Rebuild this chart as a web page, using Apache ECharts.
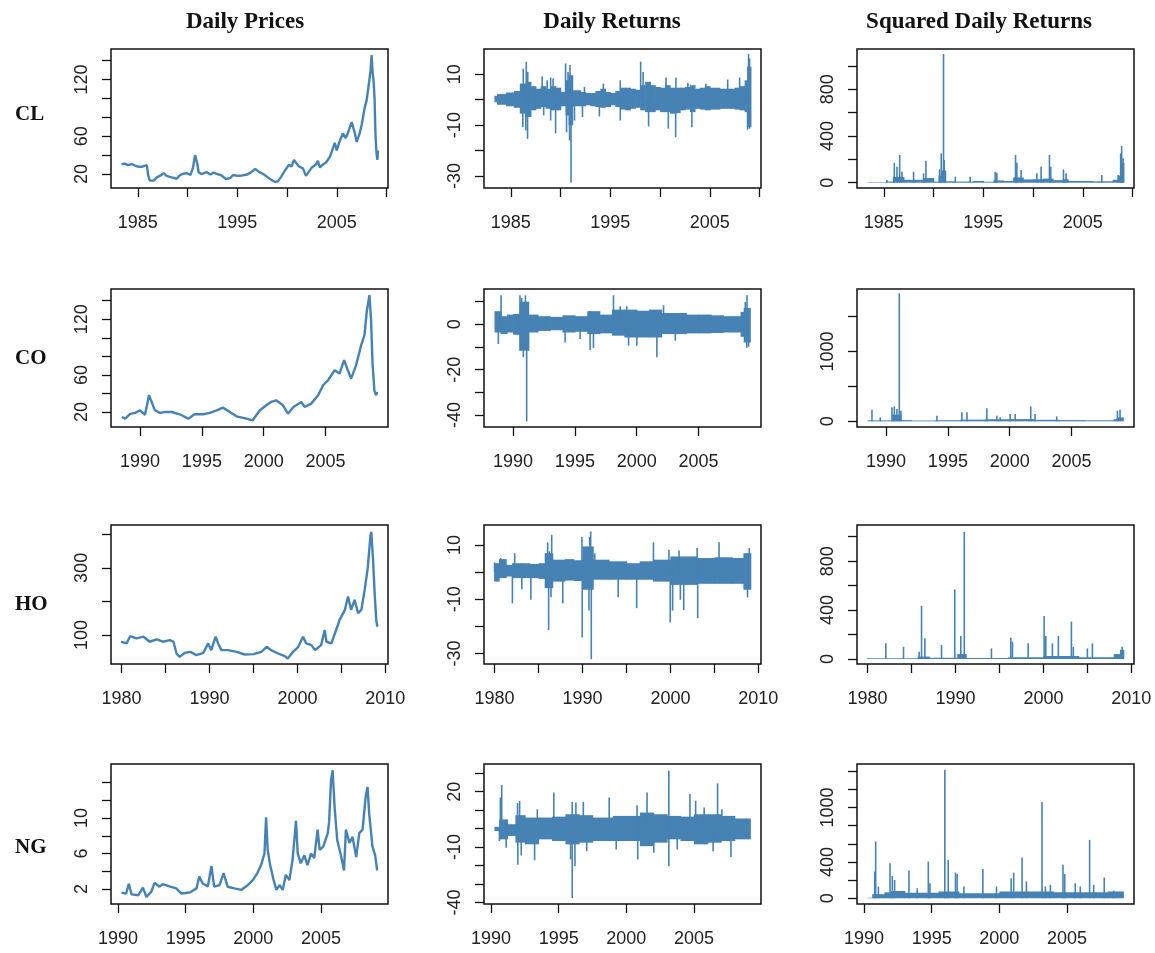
<!DOCTYPE html>
<html><head><meta charset="utf-8">
<script src="https://cdn.jsdelivr.net/npm/echarts@6/dist/echarts.min.js"></script>
<style>html,body{margin:0;padding:0;background:#fff}#c{width:1155px;height:953px}</style>
</head><body><div id="c"></div>
<script>
// ---------------- DATA ----------------
const rowNames = ['CL', 'CO', 'HO', 'NG'];
const colTitles = ['Daily Prices', 'Daily Returns', 'Squared Daily Returns'];

// x-axis ticks / labels per row
const xTicks = [[1985,1990,1995,2000,2005,2010],[1990,1995,2000,2005],[1980,1985,1990,1995,2000,2005,2010],[1990,1995,2000,2005]];
const xTickLabels = [[1985,1995,2005],[1990,1995,2000,2005],[1980,1990,2000,2010],[1990,1995,2000,2005]];

// y-axis ticks / labels per panel [row][col]
const yTicks = [
  [[20,40,60,80,100,120,140],[-30,-20,-10,0,10],[0,200,400,600,800,1000]],
  [[20,40,60,80,100,120,140],[-40,-30,-20,-10,0,10],[0,500,1000,1500]],
  [[100,200,300,400],[-30,-20,-10,0,10],[0,200,400,600,800,1000]],
  [[2,4,6,8,10,12,14],[-40,-30,-20,-10,0,10,20,30],[0,200,400,600,800,1000,1200,1400]]
];
const yTickLabels = [
  [[20,60,120],[-30,-10,10],[0,400,800]],
  [[20,60,120],[-40,-20,0],[0,1000]],
  [[100,300],[-30,-10,10],[0,400,800]],
  [[2,6,10],[-40,-10,20],[0,400,1000]]
];

// Daily prices [year, price]
const clPrice = [[1983.35,30.3],[1983.7,31],[1984.0,29.5],[1984.4,30.5],[1984.8,28.5],[1985.2,27.5],[1985.5,28],[1985.9,29.5],[1986.05,18],[1986.2,13],[1986.35,11.5],[1986.6,13],[1986.9,16.5],[1987.3,18.5],[1987.6,21],[1987.9,18],[1988.2,17],[1988.6,16],[1988.9,15],[1989.2,18.5],[1989.5,20],[1989.9,21],[1990.3,19],[1990.55,27],[1990.75,40],[1990.85,36],[1991.0,30],[1991.1,22],[1991.4,20],[1991.9,22],[1992.3,19.5],[1992.6,21.5],[1993.0,20],[1993.4,18.5],[1993.9,14.5],[1994.3,16],[1994.6,19],[1995.0,18],[1995.5,18.5],[1996.0,19.5],[1996.4,22],[1996.8,25.5],[1997.2,22],[1997.6,20],[1998.0,17],[1998.4,14],[1998.8,11.5],[1999.1,12.5],[1999.4,17],[1999.8,24],[2000.2,30],[2000.45,28],[2000.7,35],[2000.9,32],[2001.2,28],[2001.6,26],[2001.9,18],[2002.1,20],[2002.5,27],[2002.9,30],[2003.1,34],[2003.3,27],[2003.6,30],[2003.9,32],[2004.3,38],[2004.6,47],[2004.8,53],[2005.0,45],[2005.3,55],[2005.6,63],[2005.9,58],[2006.1,63],[2006.5,75],[2006.8,64],[2007.0,54],[2007.3,63],[2007.5,72],[2007.8,90],[2008.0,98],[2008.26,118],[2008.4,130],[2008.5,146],[2008.6,128],[2008.7,119],[2008.8,100],[2008.88,65],[2008.95,50],[2009.0,42],[2009.08,35],[2009.15,45]];
const coPrice = [[1988.52,14.6],[1988.8,12.8],[1989.2,18],[1989.6,19],[1990.0,21.8],[1990.4,17],[1990.6,30],[1990.72,38],[1990.8,39.8],[1990.94,30.8],[1991.2,21.8],[1991.6,19],[1992.0,20],[1992.55,20],[1993.2,17.5],[1993.9,12.8],[1994.4,17.5],[1995.1,17.5],[1995.65,19],[1996.2,21.8],[1996.7,24.7],[1997.26,20],[1997.8,15.3],[1998.6,12.8],[1999.1,11],[1999.7,21.8],[2000.2,27.2],[2000.6,30.8],[2001.0,32.6],[2001.56,27.2],[2001.96,18.2],[2002.4,25.4],[2003.04,30.8],[2003.3,25.4],[2003.84,29],[2004.4,38],[2004.8,48.8],[2005.2,54.2],[2005.73,65],[2006.13,61.4],[2006.5,75.9],[2006.8,65],[2007.07,56],[2007.47,70.5],[2007.88,92],[2008.15,103],[2008.33,128],[2008.55,146],[2008.68,119],[2008.8,72],[2008.95,43],[2009.09,38],[2009.17,41.6]];
const hoPrice = [[1979.95,80],[1980.57,75],[1981.0,97],[1981.7,90],[1982.5,95],[1983.2,80],[1984.0,87],[1984.7,80],[1985.5,85],[1985.9,80],[1986.25,45],[1986.6,35],[1987.2,47],[1987.8,50],[1988.5,40],[1989.3,47],[1989.85,75],[1990.2,55],[1990.7,95],[1990.98,75],[1991.36,55],[1992.1,55],[1993.1,50],[1994.0,42],[1995.0,43],[1995.9,50],[1996.5,65],[1997.0,55],[1997.8,45],[1998.56,37],[1998.9,30],[1999.5,50],[2000.1,65],[2000.64,95],[2001.0,75],[2001.6,70],[2002.0,55],[2002.7,70],[2003.1,115],[2003.3,80],[2003.86,75],[2004.4,115],[2004.8,145],[2005.4,175],[2005.76,215],[2006.1,175],[2006.5,205],[2006.9,165],[2007.27,175],[2007.65,235],[2008.0,300],[2008.3,395],[2008.4,407],[2008.6,325],[2008.8,215],[2008.98,140],[2009.1,125]];
const ngPrice = [[1990.25,1.6],[1990.6,1.5],[1990.8,2.6],[1991.0,1.4],[1991.5,1.3],[1991.84,2.15],[1992.1,1.1],[1992.46,1.7],[1992.7,2.7],[1993.07,2.26],[1993.3,2.56],[1993.8,2.3],[1994.3,2.07],[1994.67,1.5],[1995.3,1.6],[1995.8,2.07],[1996.0,3.4],[1996.27,2.6],[1996.64,2.3],[1996.9,4.6],[1997.1,2.26],[1997.5,2.45],[1997.8,3.8],[1998.1,2.26],[1998.6,2.07],[1999.1,1.9],[1999.6,2.45],[1999.96,3.0],[2000.3,3.8],[2000.57,4.7],[2000.82,6.0],[2000.94,10.1],[2001.06,6.4],[2001.24,4.7],[2001.5,3.0],[2001.7,1.9],[2001.93,2.45],[2002.17,1.9],[2002.4,3.6],[2002.66,3.0],[2002.9,5.3],[2003.15,9.7],[2003.28,6.0],[2003.5,4.9],[2003.77,5.8],[2004.0,4.7],[2004.26,6.0],[2004.5,5.5],[2004.75,8.7],[2004.9,6.4],[2005.17,6.8],[2005.5,8.3],[2005.6,9.6],[2005.74,14.3],[2005.86,15.4],[2006.0,11.3],[2006.2,7.5],[2006.47,5.8],[2006.7,4.1],[2006.84,8.7],[2007.1,7.2],[2007.33,7.9],[2007.6,5.6],[2007.83,8.3],[2008.07,8.7],[2008.3,12.4],[2008.44,13.5],[2008.56,10.5],[2008.8,6.8],[2009.0,5.8],[2009.15,4.1]];

// Daily returns: typical band [year from, high, low] and individual spikes [year, value]
const clRetBand = [[1983.35,1.5,-1.0],[1983.6,2.2,-2.0],[1984.5,2.8,-2.6],[1985.3,3.4,-3.2],[1985.9,6.3,-5.5],[1986.5,7.0,-6.8],[1987.0,5.3,-4.2],[1987.5,4.3,-3.6],[1988.0,5.3,-2.9],[1988.5,4.3,-3.6],[1989.0,5.3,-4.2],[1989.5,4.7,-4.2],[1990.0,3.0,-2.6],[1990.5,7.6,-6.2],[1990.8,9.6,-10.1],[1991.2,3.7,-2.6],[1992.0,3.0,-2.6],[1992.5,2.6,-2.2],[1993.0,2.6,-2.6],[1993.5,3.4,-2.9],[1994.0,4.3,-3.2],[1994.5,3.0,-2.9],[1995.0,2.6,-2.2],[1995.5,3.4,-2.9],[1996.0,4.7,-3.9],[1996.5,4.7,-4.2],[1997.0,4.3,-3.6],[1997.5,3.9,-3.2],[1998.0,5.7,-4.2],[1998.5,7.0,-4.9],[1999.0,5.7,-4.9],[1999.5,5.0,-4.2],[2000.0,4.7,-4.9],[2000.5,5.7,-4.9],[2001.0,4.7,-5.5],[2001.5,4.7,-5.3],[2002.0,4.7,-4.2],[2002.5,5.0,-3.9],[2003.0,5.7,-4.9],[2003.5,4.3,-3.6],[2004.0,4.7,-3.9],[2004.5,5.3,-4.2],[2005.0,4.7,-3.9],[2006.0,4.3,-3.6],[2007.0,4.3,-3.6],[2007.5,4.7,-3.9],[2008.0,5.3,-4.2],[2008.5,7.6,-4.9],[2008.75,12.9,-10.8],[2009.12,13.6,-11.4]];
const clRetSpikes = [[1986.25,12.2],[1986.55,14.9],[1986.7,10.9],[1988.15,9.2],[1988.65,7.6],[1989.0,8.7],[1989.25,8.3],[1990.5,14.2],[1990.75,10.9],[1990.95,13.6],[1992.4,5.0],[1994.3,6.3],[1996.0,7.6],[1998.05,14.9],[1998.3,10.9],[1999.0,7.0],[2000.6,8.7],[2001.6,8.7],[2002.8,6.6],[2004.6,6.3],[2006.8,7.9],[2008.0,8.7],[2008.9,17.9],[2009.0,16.2],
  [1986.2,-10.8],[1986.5,-12.1],[1986.68,-15.4],[1988.3,-6.2],[1989.0,-8.2],[1989.5,-13.2],[1990.6,-12.8],[1990.9,-16.0],[1991.05,-32.5],[1991.4,-8.2],[1992.2,-6.8],[1993.9,-6.6],[1996.0,-8.2],[1998.85,-10.5],[2000.83,-11.4],[2001.57,-14.7],[2003.2,-10.8],[2008.8,-11.8],[2009.0,-11.4]];
const coRetBand = [[1988.5,5.8,-3.6],[1989.0,3.6,-4.3],[1989.5,4.3,-3.6],[1990.0,4.6,-4.6],[1990.55,10.0,-11.6],[1991.25,4.3,-3.6],[1992.0,3.6,-2.9],[1993.0,3.3,-2.6],[1994.0,4.0,-3.6],[1995.0,3.6,-3.3],[1996.0,5.8,-4.3],[1997.0,4.3,-4.0],[1998.0,6.5,-5.0],[1999.0,6.5,-5.8],[2000.0,6.0,-5.8],[2001.0,6.5,-5.8],[2002.0,5.0,-4.3],[2003.0,5.0,-4.3],[2004.0,4.3,-4.0],[2005.0,4.3,-4.0],[2006.0,4.0,-3.8],[2007.0,3.6,-3.6],[2008.4,5.5,-5.5],[2008.65,7.2,-8.0],[2009.17,7.2,-8.0]];
const coRetSpikes = [[1989.03,12.8],[1990.56,12.8],[1990.7,11.6],[1991.0,12.8],[1991.1,9.4],[1996.23,5.8],[1998.12,12.8],[1998.66,8.0],[1999.2,8.0],[2002.17,8.4],[2008.78,9.9],[2008.92,12.8],
  [1988.81,-8.7],[1990.56,-11.6],[1990.83,-14.5],[1991.1,-42.8],[1991.24,-11.6],[1994.21,-8.0],[1995.42,-6.5],[1996.23,-11.3],[1996.5,-10.4],[1999.34,-9.4],[2000.01,-9.4],[2001.63,-14.5],[2003.12,-7.2],[2008.9,-10.4],[2009.05,-9.9]];
const hoRetBand = [[1979.95,3.3,-3.5],[1980.5,4.8,-2.2],[1981.3,2.7,-1.6],[1982.0,3.3,-2.2],[1983.0,3.3,-2.2],[1984.0,3.0,-2.2],[1985.0,3.3,-2.5],[1985.7,7.0,-5.9],[1986.6,4.6,-3.5],[1988.0,4.8,-3.1],[1989.0,4.4,-3.3],[1990.0,9.5,-6.5],[1991.2,4.6,-2.8],[1993.0,4.0,-2.8],[1995.0,3.3,-2.8],[1996.5,4.0,-2.8],[1998.0,4.6,-3.5],[2000.0,5.8,-4.7],[2003.0,5.2,-4.3],[2005.0,5.5,-4.3],[2007.0,5.2,-4.3],[2008.3,7.0,-6.5],[2009.12,7.0,-6.5]];
const hoRetSpikes = [[1980.0,3.6],[1980.69,5.2],[1982.29,7.0],[1986.04,11.0],[1986.23,7.7],[1986.5,13.8],[1989.94,13.0],[1990.81,13.0],[1990.93,15.0],[1991.39,7.0],[1998.07,11.0],[1999.83,8.3],[2000.98,8.0],[2003.04,8.9],[2005.53,11.0],[2008.97,8.9],
  [1982.03,-11.5],[1983.1,-6.3],[1984.13,-10.2],[1985.85,-5.3],[1986.15,-21.4],[1986.42,-9.3],[1987.76,-11.5],[1989.97,-24.1],[1990.74,-14.2],[1991.0,-32.1],[1994.06,-9.3],[1996.16,-13.3],[1999.98,-18.6],[2000.25,-14.2],[2001.13,-10.2],[2001.51,-14.0],[2003.1,-17.0],[2008.77,-9.3]];
const ngRetBand = [[1990.25,1.0,-1.3],[1990.6,5.0,-5.8],[1991.2,2.4,-4.0],[1991.8,7.3,-7.6],[1992.5,6.0,-8.5],[1993.5,6.0,-5.8],[1994.5,6.5,-6.7],[1995.5,7.8,-8.5],[1996.5,7.3,-7.6],[1997.5,6.0,-6.7],[1999.0,6.9,-6.7],[2001.0,8.7,-9.5],[2002.0,7.8,-7.6],[2003.0,6.9,-5.8],[2004.0,6.5,-6.7],[2005.0,7.8,-8.5],[2006.0,7.8,-7.6],[2007.0,6.9,-6.7],[2008.0,5.5,-5.8],[2009.15,5.5,-5.8]];
const ngRetSpikes = [[1990.69,16.9],[1990.79,23.6],[1991.96,13.8],[1992.11,15.1],[1993.42,10.5],[1994.64,19.6],[1996.0,14.5],[1996.27,14.2],[1996.82,14.5],[1998.73,16.9],[2000.79,12.7],[2001.53,19.6],[2003.14,31.5],[2004.7,18.7],[2005.12,15.1],[2005.75,11.5],[2006.74,24.5],[2007.06,10.5],
  [1990.62,-6.7],[1991.12,-10.4],[1991.98,-19.5],[1992.23,-14.5],[1993.22,-17.1],[1995.88,-16.7],[1996.0,-37.6],[1996.2,-20.4],[1997.07,-12.2],[1999.25,-11.3],[2000.84,-16.7],[2002.03,-13.1],[2003.14,-20.4],[2003.76,-11.3],[2006.41,-12.2],[2007.73,-15.3]];

// Squared daily returns: typical band [year from, top] and spikes [year, value]
const clSqBand = [[1983.35,4],[1985.3,10],[1985.9,50],[1987.0,25],[1988.0,25],[1989.0,40],[1990.0,10],[1990.5,60],[1990.8,105],[1991.2,12],[1992.0,10],[1994.0,15],[1995.0,8],[1996.0,20],[1997.0,15],[1998.0,45],[1999.0,28],[2000.0,30],[2001.0,35],[2002.0,22],[2003.0,30],[2003.5,15],[2006.0,12],[2008.0,25],[2008.5,60],[2008.75,170],[2009.12,200]];
const clSqSpikes = [[1985.31,23],[1986.05,171],[1986.32,137],[1986.59,237],[1986.82,94],[1987.99,94],[1988.99,80],[1989.23,189],[1990.6,114],[1990.77,251],[1991.0,1103],[1991.07,194],[1992.18,51],[1993.68,51],[1996.19,94],[1996.36,86],[1998.24,237],[1998.37,171],[1998.8,108],[2000.38,80],[2000.81,137],[2001.65,237],[2001.78,137],[2003.06,114],[2003.32,80],[2006.91,66],[2008.58,66],[2008.81,251],[2008.91,314],[2009.05,209]];
const coSqBand = [[1988.5,14],[1990.5,95],[1991.2,18],[1992.0,12],[1994.0,16],[1996.0,24],[1998.0,30],[2000.0,32],[2002.0,22],[2004.0,18],[2006.0,15],[2008.4,30],[2008.65,57],[2009.17,57]];
const coSqSpikes = [[1988.86,167],[1989.53,57],[1990.48,200],[1990.67,214],[1990.88,176],[1991.07,1833],[1991.2,152],[1994.11,81],[1996.13,129],[1996.54,129],[1998.15,186],[1998.96,81],[1999.23,57],[2000.04,105],[2000.44,105],[2001.7,214],[2002.05,105],[2003.8,71],[2008.71,152],[2008.92,167]];
const hoSqBand = [[1979.95,5],[1985.7,20],[1987.0,10],[1990.2,40],[1991.2,8],[1996.0,15],[2000.0,25],[2004.0,15],[2008.0,40],[2008.7,75],[2009.12,75]];
const hoSqSpikes = [[1982.08,128],[1984.09,100],[1985.87,60],[1986.14,435],[1986.52,169],[1988.41,114],[1989.92,568],[1990.6,188],[1991.0,1039],[1994.09,87],[1996.29,174],[1996.48,141],[1998.26,128],[2000.08,351],[2000.27,188],[2001.02,128],[2001.7,188],[2003.18,305],[2003.4,100],[2005.0,87],[2005.57,128],[2008.95,100]];
const ngSqBand = [[1990.25,5],[1990.6,45],[1991.5,65],[1992.0,80],[1993.0,60],[1995.5,75],[1997.0,55],[2000.0,75],[2004.0,65],[2008.0,75],[2009.15,75]];
const ngSqSpikes = [[1990.79,294],[1990.86,625],[1991.06,129],[1991.92,386],[1992.09,246],[1992.26,202],[1993.32,305],[1993.93,110],[1994.75,404],[1994.87,165],[1995.97,1415],[1996.22,423],[1996.76,283],[1996.88,268],[1997.38,129],[1998.78,323],[1999.79,129],[2000.87,220],[2001.06,283],[2001.68,448],[2002.0,184],[2003.15,1059],[2003.4,129],[2003.77,147],[2004.7,368],[2004.83,268],[2005.61,165],[2005.98,129],[2006.67,643],[2006.97,147],[2007.75,228],[2008.44,85]];

// ---------------- LAYOUT ----------------
const COLOR = '#4682B4';
const colLeft = [111, 484, 857], colWidth = 277;
const rowTop = [49, 289, 525, 764], rowHeight = [139, 138, 139, 140];
const xRange = [[1982.3, 2010.15], [1987.65, 2010.05], [1978.8, 2010.3], [1989.48, 2009.95]];
const yRange = [
  [[5.2,152.4],[-34.7,19.9],[-45.4,1145.7]],
  [[3.8,152.6],[-45.3,15.6],[-81,1893]],
  [[13.7,427.7],[-33.9,17.4],[-41,1095.5]],
  [[0.31,16.1],[-40.8,35],[-63,1478]]
];
const prices = [clPrice, coPrice, hoPrice, ngPrice];
const retBands = [clRetBand, coRetBand, hoRetBand, ngRetBand];
const retSpikes = [clRetSpikes, coRetSpikes, hoRetSpikes, ngRetSpikes];
const sqBands = [clSqBand, coSqBand, hoSqBand, ngSqBand];
const sqSpikes = [clSqSpikes, coSqSpikes, hoSqSpikes, ngSqSpikes];

const grids = [], xAxes = [], yAxes = [], series = [];
const labelFont = {fontFamily: 'Liberation Sans', fontSize: 18, color: '#222'};
const fmt = v => String(Math.round(v * 100) / 100);

// band drawn as contiguous blocks: [x_i, x_{i+1}] spanning low..high of row i
function bandSeries(k, band, hasLow) {
  return {type:'custom', xAxisIndex:k, yAxisIndex:k, data:band, silent:true, animation:false, z:2, clip:true,
    encode: hasLow ? {x:0, y:[1,2]} : {x:0, y:1},
    renderItem: function (params, api) {
      const i = params.dataIndex;
      if (i >= band.length - 1) return null;
      const hi = api.value(1), lo = hasLow ? api.value(2) : 0;
      const p0 = api.coord([api.value(0), hi]);
      const p1 = api.coord([band[i + 1][0], lo]);
      return {type:'rect', shape:{x:p0[0], y:p0[1], width:p1[0] - p0[0] + 0.7, height:p1[1] - p0[1]},
        style:{fill:COLOR}};
    }};
}
function spikeBars(k, data) {
  return {type:'bar', xAxisIndex:k, yAxisIndex:k, data, barWidth:1.6, itemStyle:{color:COLOR},
    silent:true, animation:false, z:3};
}

for (let r = 0; r < 4; r++) {
  for (let c = 0; c < 3; c++) {
    const k = r * 3 + c;
    grids.push({left: colLeft[c], top: rowTop[r], width: colWidth, height: rowHeight[r],
      show: true, borderColor: '#111', borderWidth: 1.5, backgroundColor: 'transparent', containLabel: false});
    xAxes.push({gridIndex:k, type:'value', min:xRange[r][0], max:xRange[r][1], position:'bottom',
      axisLine:{show:false, onZero:false}, splitLine:{show:false},
      axisTick:{show:true, length:9, lineStyle:{color:'#111', width:1.3}, customValues:xTicks[r]},
      axisLabel:Object.assign({show:true, margin:26, customValues:xTickLabels[r], formatter:fmt}, labelFont)});
    yAxes.push({gridIndex:k, type:'value', min:yRange[r][c][0], max:yRange[r][c][1], position:'left',
      axisLine:{show:false, onZero:false}, splitLine:{show:false},
      axisTick:{show:true, length:9, lineStyle:{color:'#111', width:1.3}, customValues:yTicks[r][c]},
      axisLabel:Object.assign({show:true, margin:20, rotate:90, customValues:yTickLabels[r][c], formatter:fmt}, labelFont)});
    if (c === 0) {
      series.push({type:'line', xAxisIndex:k, yAxisIndex:k, data:prices[r], showSymbol:false, symbol:'none',
        lineStyle:{color:COLOR, width:2.4}, itemStyle:{color:COLOR}, silent:true, animation:false});
    } else if (c === 1) {
      series.push(bandSeries(k, retBands[r], true));
      series.push(spikeBars(k, retSpikes[r]));
    } else {
      series.push(bandSeries(k, sqBands[r], false));
      series.push(spikeBars(k, sqSpikes[r]));
    }
  }
}

const serif = '"Liberation Serif", "Times New Roman", serif';
const graphics = [];
const titleX = [245, 612, 979];
colTitles.forEach((t, i) => graphics.push({type:'text', x:titleX[i], y:22,
  style:{text:t, font:'bold 23px ' + serif, fill:'#111', textAlign:'center', textVerticalAlign:'middle'}}));
const rowLabelY = [115, 359, 605, 848];
rowNames.forEach((t, i) => graphics.push({type:'text', x:15, y:rowLabelY[i],
  style:{text:t, font:'bold 21px ' + serif, fill:'#111', textAlign:'left', textVerticalAlign:'middle'}}));

const chart = echarts.init(document.getElementById('c'), null, {renderer:'canvas'});
chart.setOption({
  animation:false, backgroundColor:'#fff',
  grid:grids, xAxis:xAxes, yAxis:yAxes, series:series, graphic:graphics
});
</script>
</body></html>
